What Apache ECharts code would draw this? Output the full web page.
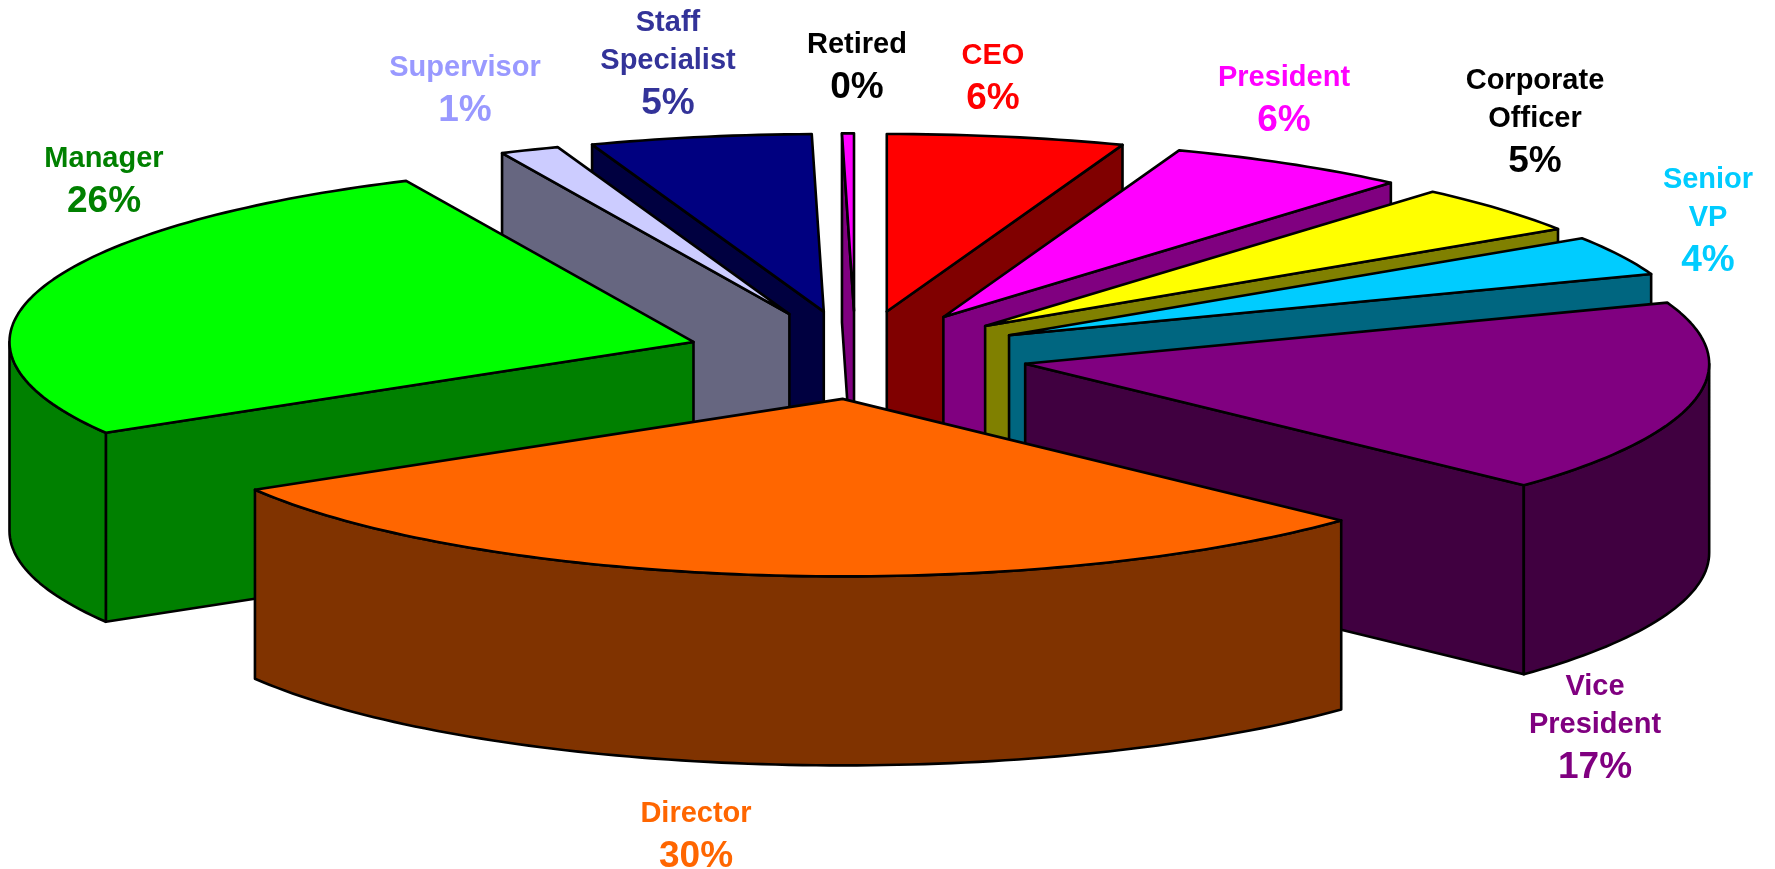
<!DOCTYPE html>
<html>
<head>
<meta charset="utf-8">
<style>
  html, body { margin: 0; padding: 0; background: #fff; }
  #main { width: 1775px; height: 869px; }
</style>
<script src="https://cdn.jsdelivr.net/npm/echarts@6/dist/echarts.min.js"></script>
</head>
<body>
<div id="main"></div>
<script>
// shares, clockwise from 12 o'clock
const categories = ["CEO", "President", "Corporate\nOfficer", "Senior\nVP", "Vice\nPresident", "Director", "Manager", "Supervisor", "Staff\nSpecialist", "Retired"];
const values = [5.6, 5.75, 4.45, 3.6, 17.6, 29.45, 26.65, 1.4, 5.22, 0.28];
const percentLabels = ["6%", "6%", "5%", "4%", "17%", "30%", "26%", "1%", "5%", "0%"];
const topColors = ["#FF0000", "#FF00FF", "#FFFF00", "#00CCFF", "#800080", "#FF6600", "#00FF00", "#CCCCFF", "#000080", "#FF00FF"];
const sideColors = ["#800000", "#800080", "#808000", "#006680", "#400040", "#803300", "#008000", "#666680", "#000040", "#800080"];
const labelColors = ["#FF0000", "#FF00FF", "#000000", "#00CCFF", "#800080", "#FF6600", "#008000", "#9999FF", "#333399", "#000000"];

// label block centres, px
const labelX = [993, 1284, 1535, 1708, 1595, 696, 104, 465, 668, 857];
const labelY = [79.5, 101.5, 123.5, 223, 729.5, 838, 183, 91.5, 66, 68.5];

// pie projection
const cx = 857, cy = 355, rx = 684, ry = 177.5, depth = 189, explode = 0.2487;
// small sideways corrections per slice, the original has a bit of perspective
const sliceNudge = [0, 0, 0, 0, 1.5, 4, -1, -3, -2.5, -1.5];

const total = values.reduce((a, b) => a + b, 0);
const slices = [];
let cum = 0;
values.forEach((v, i) => {
  const a = cum / total * Math.PI * 2;
  cum += v;
  const b = cum / total * Math.PI * 2;
  const mid = (a + b) / 2;
  slices.push({
    a: a,
    b: b,
    ax: cx + explode * rx * Math.sin(mid) + sliceNudge[i],
    ay: cy - explode * ry * Math.cos(mid)
  });
});

// back to front
const drawOrder = slices.map((s, i) => i).sort((p, q) => slices[p].ay - slices[q].ay);

function rimPoint(s, t, drop) {
  return [s.ax + rx * Math.sin(t), s.ay - ry * Math.cos(t) + (drop || 0)];
}

function arcPoints(s, from, to, drop) {
  const n = Math.max(2, Math.ceil((to - from) / 0.02));
  const pts = [];
  for (let i = 0; i <= n; i++) {
    pts.push(rimPoint(s, from + (to - from) * i / n, drop));
  }
  return pts;
}

function face(points, fill) {
  return {
    type: "polygon",
    shape: { points: points },
    style: { fill: fill, stroke: "#000", lineWidth: 2.6, lineJoin: "round" }
  };
}

function radialWall(s, t, fill) {
  return face([
    [s.ax, s.ay],
    rimPoint(s, t),
    rimPoint(s, t, depth),
    [s.ax, s.ay + depth]
  ], fill);
}

function renderSlice(params, api) {
  const i = api.value(0);
  const s = slices[i];
  const children = [];
  if (Math.sin(s.a) < 0) children.push(radialWall(s, s.a, sideColors[i]));
  if (Math.sin(s.b) > 0) children.push(radialWall(s, s.b, sideColors[i]));
  // outer skin only on the front half
  const from = Math.max(s.a, Math.PI / 2);
  const to = Math.min(s.b, Math.PI * 1.5);
  if (to > from) {
    const upper = arcPoints(s, from, to, 0);
    const lower = arcPoints(s, from, to, depth).reverse();
    children.push(face(upper.concat(lower), sideColors[i]));
  }
  children.push(face([[s.ax, s.ay]].concat(arcPoints(s, s.a, s.b, 0)), topColors[i]));
  return { type: "group", children: children };
}

function renderLabel(params, api) {
  const i = api.value(0);
  const lines = categories[i].split("\n").map(t => "{n|" + t + "}");
  lines.push("{p|" + percentLabels[i] + "}");
  return {
    type: "text",
    z2: 100,
    style: {
      x: labelX[i],
      y: labelY[i],
      text: lines.join("\n"),
      align: "center",
      verticalAlign: "middle",
      fill: labelColors[i],
      fontFamily: "Liberation Sans",
      fontWeight: "bold",
      rich: {
        n: { fontFamily: "Liberation Sans", fontWeight: "bold", fontSize: 29, lineHeight: 38, fill: labelColors[i], align: "center" },
        p: { fontFamily: "Liberation Sans", fontWeight: "bold", fontSize: 37, lineHeight: 48, fill: labelColors[i], align: "center" }
      }
    }
  };
}

const myChart = echarts.init(document.getElementById("main"));
myChart.setOption({
  backgroundColor: "#fff",
  animation: false,
  series: [
    {
      type: "custom",
      coordinateSystem: "none",
      silent: true,
      renderItem: renderSlice,
      data: drawOrder.map(i => [i])
    },
    {
      type: "custom",
      coordinateSystem: "none",
      silent: true,
      z: 3,
      renderItem: renderLabel,
      data: categories.map((c, i) => [i])
    }
  ]
});
</script>
</body>
</html>
